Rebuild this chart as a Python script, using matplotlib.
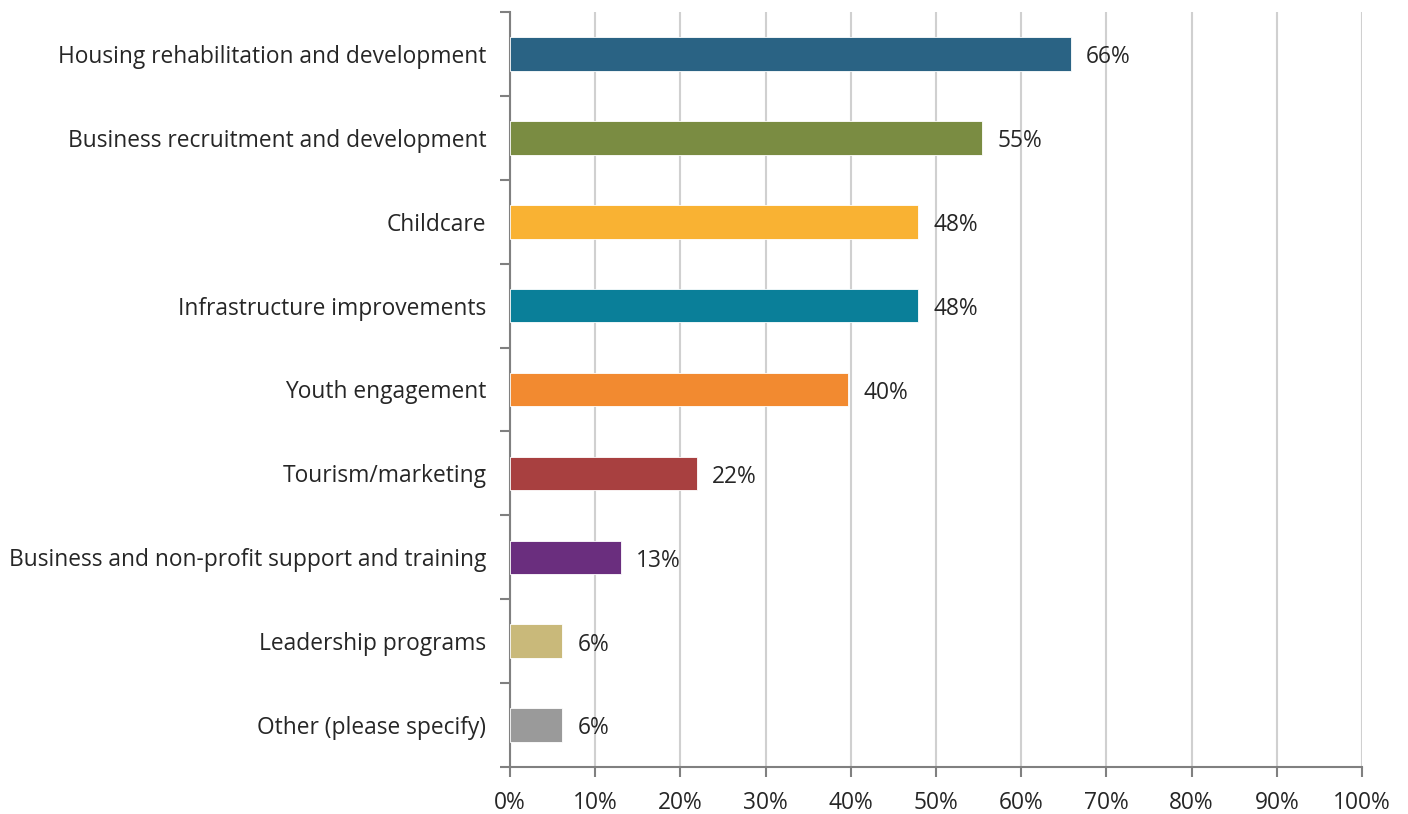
import matplotlib
matplotlib.use("Agg")
import matplotlib.pyplot as plt
import numpy as np

categories = [
    "Housing rehabilitation and development",
    "Business recruitment and development",
    "Childcare",
    "Infrastructure improvements",
    "Youth engagement",
    "Tourism/marketing",
    "Business and non-profit support and training",
    "Leadership programs",
    "Other (please specify)",
]
values = [65.8, 55.4, 47.9, 47.9, 39.7, 21.9, 13.0, 6.1, 6.1]
colors = ["#2A6384", "#7A8C42", "#F9B233", "#0A7F99", "#F28A30",
          "#A84040", "#6A2E7E", "#C9B97A", "#9A9A9A"]
xticks = list(range(0, 101, 10))

plt.rcParams['font.family'] = ['Open Sans', 'DejaVu Sans']
FS = 16.4

fig = plt.figure(figsize=(14.08, 8.14), dpi=100)
ax = fig.add_axes([510/1408, 1-767/814, (1362-510)/1408, (767-12)/814])

n = len(categories)
y = np.arange(n)
ax.barh(y, values, height=0.4, color=colors, edgecolor="white", linewidth=0.6, zorder=3)
for yi, v in zip(y, values):
    ax.text(v + 1.8, yi + 0.04, f"{round(v):.0f}%", va="center", ha="left", fontsize=FS, color="#262626")

ax.set_ylim(n - 0.5, -0.5)
ax.set_xlim(0, 100)
ax.set_xticks(xticks)
ax.set_xticklabels([f"{t}%" for t in xticks], fontsize=FS, color="#262626")
ax.set_yticks(y)
ax.set_yticklabels(categories, fontsize=FS, color="#262626")
ax.tick_params(axis="y", length=0, pad=17)
ax.set_yticks(np.arange(-0.5, n, 1), minor=True)
ax.tick_params(axis="y", which="minor", length=7, width=1.5, color="#808080", direction="out")
ax.tick_params(axis="x", length=7, width=1.5, color="#808080", direction="out", pad=10)

ax.grid(axis="x", color="#D0D0D0", linewidth=1.5, zorder=0)
for s in ["top", "right"]:
    ax.spines[s].set_visible(False)
for s in ["left", "bottom"]:
    ax.spines[s].set_color("#808080")
    ax.spines[s].set_linewidth(1.5)

fig.savefig("out.png", dpi=100)
